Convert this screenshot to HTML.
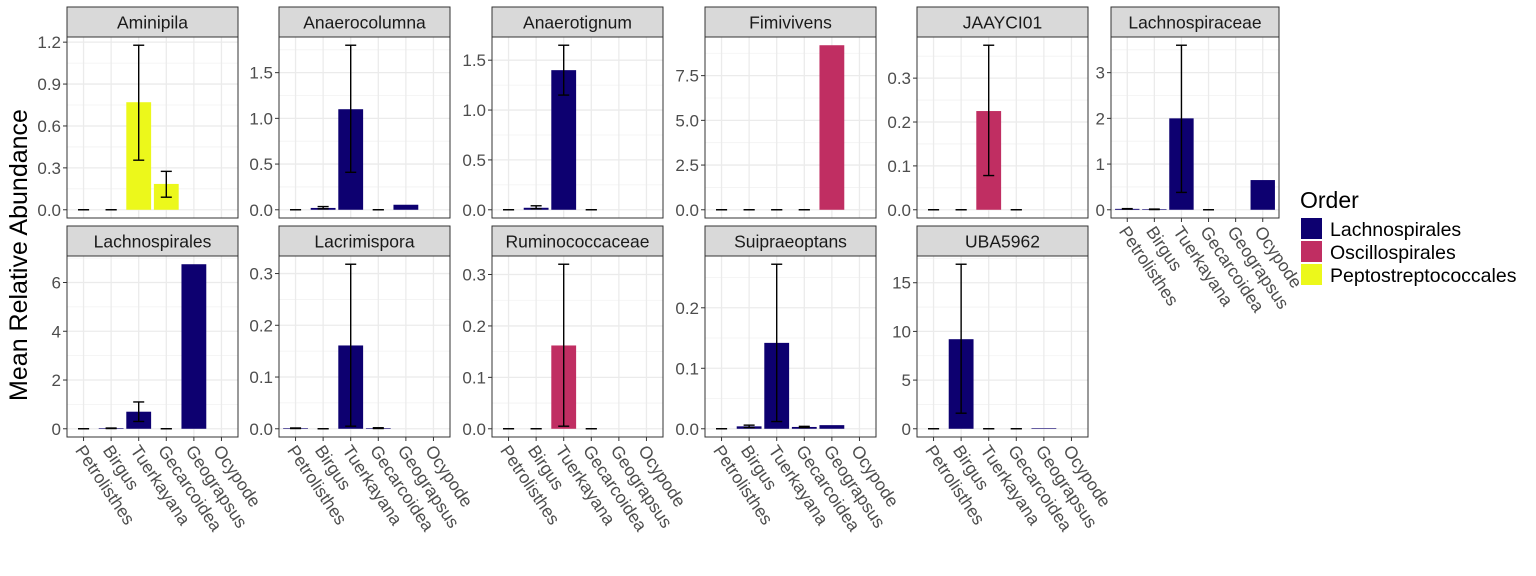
<!DOCTYPE html>
<html><head><meta charset="utf-8"><style>
body{margin:0;background:#fff;}
svg{display:block;font-family:"Liberation Sans",Arial,sans-serif;}
</style></head><body>
<svg id="chart" width="1536" height="576" viewBox="0 0 1536 576"></svg>
<script>
const categories=["Petrolisthes","Birgus","Tuerkayana","Gecarcoidea","Geograpsus","Ocypode"];
const panelNames=["Aminipila","Anaerocolumna","Anaerotignum","Fimivivens","JAAYCI01","Lachnospiraceae","Lachnospirales","Lacrimispora","Ruminococcaceae","Suipraeoptans","UBA5962"];
const panelOrder=["Peptostreptococcales","Lachnospirales","Lachnospirales","Oscillospirales","Oscillospirales","Lachnospirales","Lachnospirales","Lachnospirales","Oscillospirales","Lachnospirales","Lachnospirales"];
const meanValues=[
[0,0,0.77,0.185,null,null],
[0,0.02,1.1,0,0.055,null],
[0,0.02,1.4,0,null,null],
[0,0,0,0,9.2,null],
[0,0,0.225,0,null,null],
[0.02,0.01,2.0,0,null,0.65],
[0,0.02,0.7,0,6.75,null],
[0.001,0,0.161,0.001,null,null],
[0,0,0.162,0,null,null],
[0,0.004,0.142,0.003,0.006,null],
[0,9.2,0,0,0.05,0]];
const lowerValues=[
[0,0,0.355,0.09,null,null],
[0,0.01,0.41,0,null,null],
[0,0.01,1.15,0,null,null],
[0,0,0,0,null,null],
[0,0,0.078,0,null,null],
[0.015,0.005,0.38,0,null,null],
[0,0.01,0.3,0,null,null],
[0.0005,0,0.005,0.0005,null,null],
[0,0,0.005,0,null,null],
[0,0.002,0.012,0.002,null,null],
[0,1.6,0,0,null,null]];
const upperValues=[
[0,0,1.178,0.275,null,null],
[0,0.035,1.8,0,null,null],
[0,0.04,1.65,0,null,null],
[0,0,0,0,null,null],
[0,0,0.375,0,null,null],
[0.025,0.015,3.6,0,null,null],
[0,0.03,1.1,0,null,null],
[0.0015,0,0.318,0.002,null,null],
[0,0,0.32,0,null,null],
[0,0.006,0.272,0.004,null,null],
[0,16.9,0,0,null,null]];
const tickValues=[[0,0.3,0.6,0.9,1.2],[0,0.5,1.0,1.5],[0,0.5,1.0,1.5],[0,2.5,5.0,7.5],[0,0.1,0.2,0.3],[0,1,2,3],[0,2,4,6],[0,0.1,0.2,0.3],[0,0.1,0.2,0.3],[0,0.1,0.2],[0,5,10,15]];
const tickLabels=[["0.0","0.3","0.6","0.9","1.2"],["0.0","0.5","1.0","1.5"],["0.0","0.5","1.0","1.5"],["0.0","2.5","5.0","7.5"],["0.0","0.1","0.2","0.3"],["0","1","2","3"],["0","2","4","6"],["0.0","0.1","0.2","0.3"],["0.0","0.1","0.2","0.3"],["0.0","0.1","0.2"],["0","5","10","15"]];
const legendOrders=["Lachnospirales","Oscillospirales","Peptostreptococcales"];
const colors={"Lachnospirales":"#0d0070","Oscillospirales":"#c02e62","Peptostreptococcales":"#ecf81b"};

const NS="http://www.w3.org/2000/svg";
const svg=document.getElementById('chart');
function mk(tag,attrs,parent){const e=document.createElementNS(NS,tag);for(const k in attrs)e.setAttribute(k,attrs[k]);(parent||svg).appendChild(e);return e;}
const lefts=[67,279,492,705,917,1111,67,279,492,705,917];
const widths=[171,171,171,171,171,168,171,171,171,171,171];
const rowTop=[7,226];
const stripH=30, plotH=181;
panelNames.forEach((name,p)=>{
  const row=p<6?0:1;
  const L=lefts[p],W=widths[p],sT=rowTop[row],T=sT+stripH,B=T+plotH;
  const g=mk('g',{});
  
  
  const m=meanValues[p],lo=lowerValues[p],hi=upperValues[p];
  let dmin=0,dmax=0;
  for(let i=0;i<6;i++){[m[i],lo[i],hi[i]].forEach(v=>{if(v!==null){dmin=Math.min(dmin,v);dmax=Math.max(dmax,v);}});}
  const r=dmax-dmin,y0=dmin-0.05*r,y1=dmax+0.05*r;
  const y=v=>B-(v-y0)/(y1-y0)*plotH;
  const step=W/6.2;
  const x=i=>L+(0.6+i)*step;
  mk('rect',{x:L,y:T,width:W,height:plotH,fill:'#fff'},g);
  const tv=tickValues[p];const d=tv[1]-tv[0];
  for(let k=-1;k<tv.length;k++){const v=tv[0]+(k+0.5)*d;if(v>y0&&v<y1){const l=mk('line',{x1:L,x2:L+W,y1:y(v),y2:y(v),stroke:'#f2f2f2','stroke-width':0.8},g);}}
  tv.forEach(v=>{const l=mk('line',{x1:L,x2:L+W,y1:y(v),y2:y(v),stroke:'#ebebeb','stroke-width':1.3},g);});
  categories.forEach((c,i)=>{const l=mk('line',{x1:x(i),x2:x(i),y1:T,y2:B,stroke:'#ebebeb','stroke-width':1.3},g);});
  const bw=step*0.9,ew=step*0.4;
  categories.forEach((c,i)=>{
    if(m[i]===null)return;
    if(m[i]>0){const b=mk('rect',{x:x(i)-bw/2,y:y(m[i]),width:bw,height:Math.max(0.6,y(0)-y(m[i])),fill:colors[panelOrder[p]]},g);
      
      }
    if(lo[i]!==null&&hi[i]!==null){
      const e=mk('g',{stroke:'#000','stroke-width':1.4},g);
      
      
      mk('line',{x1:x(i),x2:x(i),y1:y(lo[i]),y2:y(hi[i])},e);
      mk('line',{x1:x(i)-ew/2,x2:x(i)+ew/2,y1:y(lo[i]),y2:y(lo[i])},e);
      mk('line',{x1:x(i)-ew/2,x2:x(i)+ew/2,y1:y(hi[i]),y2:y(hi[i])},e);
    }
  });
  mk('rect',{x:L,y:T,width:W,height:plotH,fill:'none',stroke:'#333','stroke-width':1},g);
  const s=mk('rect',{x:L,y:sT,width:W,height:stripH,fill:'#d9d9d9',stroke:'#333','stroke-width':1},g);
  
  const st=mk('text',{x:L+W/2,y:sT+21.5,'text-anchor':'middle','font-size':17.5,fill:'#1a1a1a'},g);st.textContent=name;
  
  tv.forEach((v,k)=>{mk('line',{x1:L-4,x2:L,y1:y(v),y2:y(v),stroke:'#333','stroke-width':1},g);
    const t=mk('text',{x:L-6,y:y(v)+6,'text-anchor':'end','font-size':17,fill:'#4d4d4d'},g);t.textContent=tickLabels[p][k];
    });
  if(row===1||p===5){
    categories.forEach((c,i)=>{mk('line',{x1:x(i),x2:x(i),y1:B,y2:B+4,stroke:'#333','stroke-width':1},g);
      const t=mk('text',{'font-size':17.5,fill:'#4d4d4d',transform:`translate(${x(i)+2},${B+6}) rotate(56)`,dy:'0.75em'},g);t.textContent=c;
      });
  }
});
const yt=mk('text',{'font-size':25,fill:'#000','text-anchor':'middle',transform:'translate(27,255) rotate(-90)'});
yt.textContent='Mean Relative Abundance';

const lg=mk('g',{});

const lt=mk('text',{x:1300,y:208,'font-size':23,fill:'#000'},lg);lt.textContent='Order';

legendOrders.forEach((o,k)=>{
  const e=mk('g',{},lg);
  
  mk('rect',{x:1301,y:218+k*23,width:21,height:21,fill:colors[o]},e);
  const t=mk('text',{x:1330,y:236+k*23,'font-size':19.5,fill:'#000'},e);t.textContent=o;
});
</script>
</body></html>
